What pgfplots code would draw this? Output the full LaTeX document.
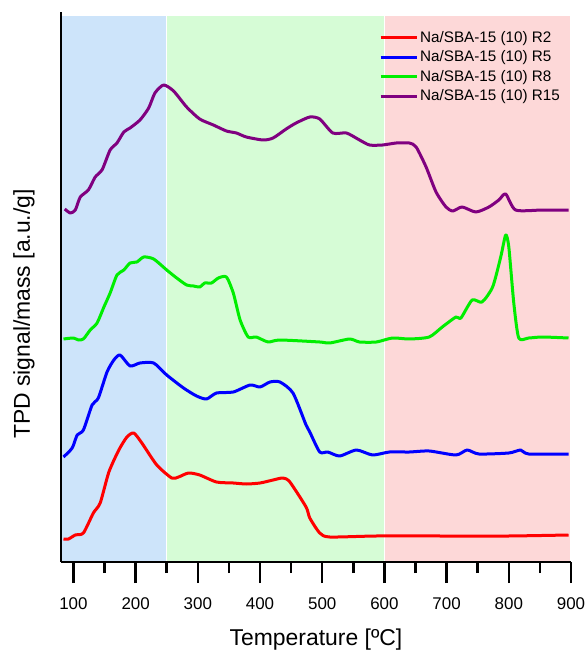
\documentclass[border=0pt]{standalone}
\usepackage{pgfplots}
\pgfplotsset{compat=1.18}
\usepackage{fontspec}
\setmainfont{Liberation Sans}

\definecolor{zoneA}{RGB}{205,228,250}
\definecolor{zoneB}{RGB}{214,252,214}
\definecolor{zoneC}{RGB}{253,216,216}
\definecolor{cRtwo}{RGB}{255,0,0}
\definecolor{cRfive}{RGB}{0,0,255}
\definecolor{cReight}{RGB}{0,238,0}
\definecolor{cRfifteen}{RGB}{128,0,128}

\begin{document}
\begin{tikzpicture}
\begin{axis}[
  scale only axis, width=510bp, height=550bp,
  xmin=80, xmax=900, ymin=0, ymax=550,
  axis on top,
  axis x line*=bottom, axis y line*=left,
  axis line style={line width=2.5bp, -},
  ytick=\empty,
  xtick={100,200,...,900},
  minor xtick={150,250,...,850},
  tick align=outside,
  major tick length=21bp, minor tick length=11bp,
  major tick style={black, line width=2.5bp},
  minor tick style={black, line width=2.5bp},
  xticklabel style={font=\fontsize{17}{20}\selectfont, yshift=-11bp},
  /pgf/number format/assume math mode=true,
  xlabel={Temperature [ºC]},
  ylabel={TPD signal/mass [a.u./g]},
  every axis x label/.style={at={(axis description cs:0.5,-0.1418)}, anchor=center,
    font=\fontsize{23}{27}\selectfont},
  every axis y label/.style={at={(axis description cs:-0.0725,0.451)}, anchor=center,
    rotate=90, font=\fontsize{23}{27}\selectfont},
  legend style={draw=none, fill=none, at={(axis description cs:0.6235,0.969)},
    anchor=north west, font=\fontsize{15.3}{18}\selectfont, inner sep=0pt,
    row sep=3bp},
  legend image code/.code={\draw[#1] (0bp,0bp) -- (36bp,0bp);},
  legend cell align=left,
  every axis plot/.append style={line width=3bp, line join=round},
]
% temperature zones
\addplot[draw=none, fill=zoneA, forget plot] coordinates {(80,0) (80,546) (249,546) (249,0)};
\addplot[draw=none, fill=zoneB, forget plot] coordinates {(251,0) (251,546) (599,546) (599,0)};
\addplot[draw=none, fill=zoneC, forget plot] coordinates {(601,0) (601,546) (899,546) (899,0)};

% R2
\addplot[cRtwo, smooth, tension=0.4] table {
84 23
92 23
103 27
116 29
132 49
143 59
157 90
173 112
186 125
197 129
210 119
234 97
258 84
269 85
285 89
303 87
330 80
357 79
378 78
400 79
421 82
437 84
448 80
474 55
480 44
496 29
512 25
587 26
693 26
800 26
896 27
};
\addlegendentry{Na/SBA-15 (10) R2}

% R5
\addplot[cRfive, smooth, tension=0.4] table {
84 105
98 114
106 127
116 132
130 157
140 164
154 190
165 202
175 207
191 196
207 199
229 199
250 187
277 174
298 166
314 163
330 169
357 170
384 177
400 175
416 180
432 180
453 169
474 137
480 130
496 110
509 110
528 106
555 112
581 107
608 110
640 110
672 111
715 107
733 112
752 108
800 109
819 112
832 108
896 108
};
\addlegendentry{Na/SBA-15 (10) R5}

% R8
\addplot[cReight, smooth, tension=0.4] table {
84 223
100 224
108 222
116 223
127 232
138 239
149 255
159 269
170 287
181 292
191 299
202 300
213 305
229 303
250 292
266 284
282 277
293 276
303 275
311 279
322 279
333 284
346 285
357 269
368 242
381 225
394 225
413 220
432 222
496 220
512 219
544 223
560 220
587 220
613 224
640 223
672 225
693 235
715 245
723 244
741 262
757 260
774 275
787 305
795 327
800 315
808 259
816 224
832 224
854 225
896 224
};
\addlegendentry{Na/SBA-15 (10) R8}

% R15
\addplot[cRfifteen, smooth, tension=0.4] table {
86 353
95 349
103 352
111 365
124 372
135 385
146 392
159 412
170 419
181 430
191 434
207 442
221 454
231 469
245 477
261 471
282 455
303 443
325 437
346 431
362 429
378 425
405 422
421 424
442 433
458 439
480 445
496 443
517 429
539 429
560 422
576 417
597 417
619 419
640 419
651 415
667 395
683 370
699 355
710 351
725 355
747 350
768 355
784 362
795 368
811 352
854 352
896 352
};
\addlegendentry{Na/SBA-15 (10) R15}
\end{axis}
\pgfresetboundingbox
\path (-61bp,-95bp) rectangle (524bp,562bp);
\end{tikzpicture}
\end{document}
